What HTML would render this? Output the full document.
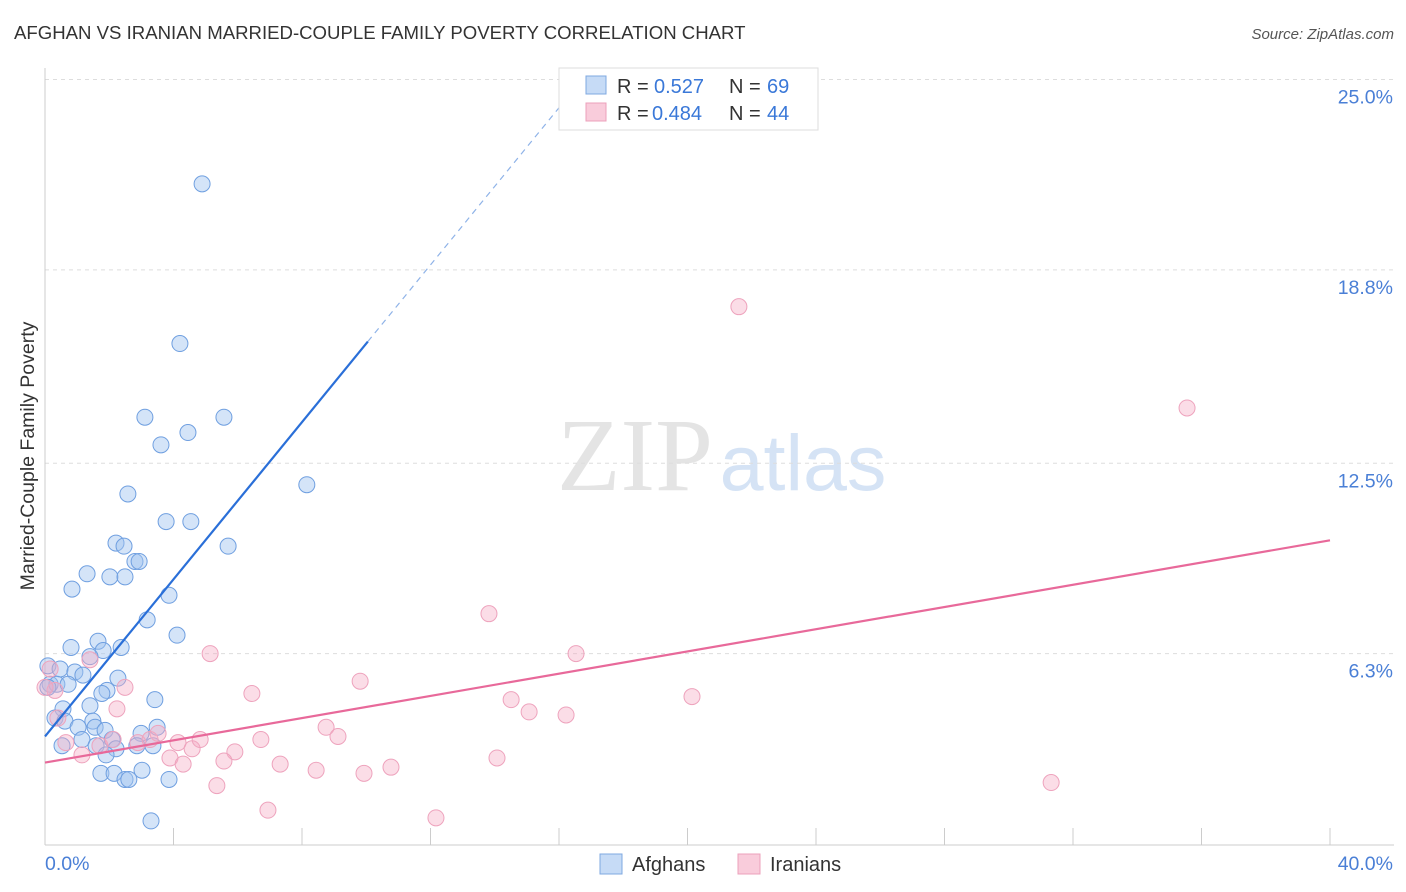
<!DOCTYPE html>
<html><head><meta charset="utf-8"><style>
body{margin:0;background:#fff;font-family:"Liberation Sans",sans-serif}
svg{display:block}
</style></head><body>
<svg id="c" width="1406" height="892" xmlns="http://www.w3.org/2000/svg">
<text x="14" y="39" font-size="18.6" fill="#333">AFGHAN VS IRANIAN MARRIED-COUPLE FAMILY POVERTY CORRELATION CHART</text>
<text x="1394" y="39" font-size="15" fill="#555" font-style="italic" text-anchor="end">Source: ZipAtlas.com</text>
<text transform="translate(34,456) rotate(-90)" font-size="19.5" fill="#333" text-anchor="middle">Married-Couple Family Poverty</text>
<g>
<text x="635" y="490" font-size="104" fill="#e4e4e4" font-family="Liberation Serif,serif" text-anchor="middle">ZIP</text>
<text x="803" y="490" font-size="79" fill="#d5e3f5" text-anchor="middle">atlas</text>
</g>
<g id="grid"></g><g id="axes"></g><g id="pts"></g><g id="lines"></g>
<g>
<rect x="559" y="68" width="259" height="62" fill="#fff" stroke="#ddd"/>
<rect x="586" y="76" width="20" height="18" fill="rgba(160,195,240,0.6)" stroke="#7fa8e0"/>
<text x="617" y="93" font-size="20" fill="#333">R =</text>
<text x="654" y="93" font-size="20" fill="#3a78d8">0.527</text>
<text x="729" y="93" font-size="20" fill="#333">N =</text>
<text x="767" y="93" font-size="20" fill="#3a78d8">69</text>
<rect x="586" y="103" width="20" height="18" fill="rgba(245,170,195,0.6)" stroke="#eca0bb"/>
<text x="617" y="120" font-size="20" fill="#333">R =</text>
<text x="652" y="120" font-size="20" fill="#3a78d8">0.484</text>
<text x="729" y="120" font-size="20" fill="#333">N =</text>
<text x="767" y="120" font-size="20" fill="#3a78d8">44</text>
</g>
<g>
<rect x="600" y="854" width="22" height="20" fill="rgba(160,195,240,0.6)" stroke="#7fa8e0"/>
<text x="632" y="871" font-size="20" fill="#333">Afghans</text>
<rect x="738" y="854" width="22" height="20" fill="rgba(245,170,195,0.6)" stroke="#eca0bb"/>
<text x="770" y="871" font-size="20" fill="#333">Iranians</text>
</g>
</svg>
<script>
const yTicks=[25.0,18.8,12.5,6.3];
const yTickLabels=["25.0%","18.8%","12.5%","6.3%"];
const xTicks=[0,4,8,12,16,20,24,28,32,36,40];
const afghanX=[4.89,4.20,3.11,5.57,4.45,3.61,8.15,2.58,3.77,4.54,2.21,2.46,5.70,2.80,2.93,1.31,2.02,2.49,0.84,3.86,3.18,4.11,0.81,1.65,1.81,2.37,1.40,0.09,0.47,0.93,1.18,2.27,0.16,0.37,0.72,1.93,1.77,3.42,1.40,0.56,0.31,0.62,1.49,1.56,1.03,3.49,1.87,2.99,1.15,2.09,1.59,0.53,2.21,2.86,3.36,1.90,3.02,1.74,2.15,2.49,2.61,3.86,3.30,0.09];
const afghanY=[21.6,16.4,14.0,14.0,13.5,13.1,11.8,11.5,10.6,10.6,9.9,9.8,9.8,9.3,9.3,8.9,8.8,8.8,8.4,8.2,7.4,6.9,6.5,6.7,6.4,6.5,6.2,5.9,5.8,5.7,5.6,5.5,5.3,5.3,5.3,5.1,5.0,4.8,4.6,4.5,4.2,4.1,4.1,3.9,3.9,3.9,3.8,3.7,3.5,3.5,3.3,3.3,3.2,3.3,3.3,3.0,2.5,2.4,2.4,2.2,2.2,2.2,0.85,5.2];
const iranX=[21.60,35.55,13.82,16.53,5.14,1.40,9.81,2.49,6.44,20.14,14.51,15.07,16.22,2.24,8.75,0.16,0.31,0.40,0.65,1.15,1.71,2.12,2.89,3.27,3.52,4.14,4.58,4.83,5.91,6.72,5.57,3.89,4.30,7.32,8.44,9.93,10.77,9.12,14.07,5.35,6.94,12.17,31.32,0];
const iranY=[17.6,14.3,7.6,6.3,6.3,6.1,5.4,5.2,5.0,4.9,4.8,4.4,4.3,4.5,3.9,5.8,5.1,4.2,3.4,3.0,3.3,3.5,3.4,3.5,3.7,3.4,3.2,3.5,3.1,3.5,2.8,2.9,2.7,2.7,2.5,2.4,2.6,3.6,2.9,2.0,1.2,0.95,2.1,5.2];
const X=v=>45+v*32.125, Y=v=>847-v*30.7;
const NS="http://www.w3.org/2000/svg";
function mk(tag,attrs,parent){const e=document.createElementNS(NS,tag);for(const k in attrs)e.setAttribute(k,attrs[k]);document.getElementById(parent).appendChild(e);return e;}
yTicks.forEach((t,i)=>{
 const l=mk('line',{x1:45,x2:1394,y1:Y(t),y2:Y(t),stroke:'#ddd','stroke-dasharray':'4,4'},'grid');
 
 
 const tx=mk('text',{x:1393,y:Y(t)+24,'font-size':19.5,fill:'#4a7fd6','text-anchor':'end'},'grid');
 tx.textContent=yTickLabels[i];
 
 
});
mk('line',{x1:45,x2:45,y1:68,y2:845,stroke:'#ccc'},'axes');
mk('line',{x1:45,x2:1394,y1:845,y2:845,stroke:'#ccc'},'axes');
xTicks.forEach(t=>{const l=mk('line',{x1:X(t),x2:X(t),y1:828,y2:845,stroke:'#ccc'},'axes');
 
 });
let a=mk('text',{x:45,y:870,'font-size':19.5,fill:'#4a7fd6'},'axes');a.textContent='0.0%';


a=mk('text',{x:1393,y:870,'font-size':19.5,fill:'#4a7fd6','text-anchor':'end'},'axes');a.textContent='40.0%';


afghanX.forEach((x,i)=>{const c=mk('circle',{cx:X(x),cy:Y(afghanY[i]),r:8,fill:'rgba(160,195,240,0.45)',stroke:'#6f9fe0','stroke-width':1},'pts');
 
 });
iranX.forEach((x,i)=>{const c=mk('circle',{cx:X(x),cy:Y(iranY[i]),r:8,fill:'rgba(245,170,195,0.4)',stroke:'#eea3bd','stroke-width':1},'pts');
 
 });
const bA=3.6,mA=1.28,bI=2.75,mI=0.181;
let l=mk('line',{x1:X(0),y1:Y(bA),x2:X(10.05),y2:Y(bA+mA*10.05),stroke:'#2a6fd8','stroke-width':2.2},'lines');


l=mk('line',{x1:X(10.05),y1:Y(bA+mA*10.05),x2:X(16.2),y2:Y(bA+mA*16.2),stroke:'#8fb3e8','stroke-width':1.2,'stroke-dasharray':'6,5'},'lines');


l=mk('line',{x1:X(0),y1:Y(bI),x2:X(40),y2:Y(bI+mI*40),stroke:'#e8699a','stroke-width':2.2},'lines');


</script>
</body></html>
